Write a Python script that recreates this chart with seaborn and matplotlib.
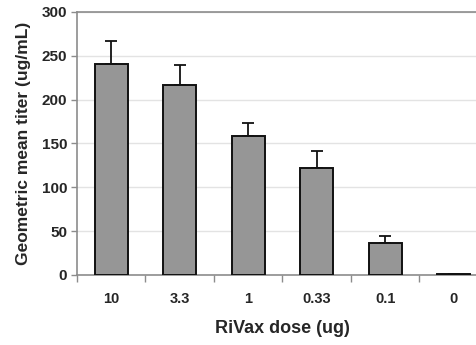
import matplotlib
matplotlib.use('Agg')
import matplotlib.pyplot as plt
import numpy as np
import pandas as pd
import seaborn as sns

# Data
doses = ['10', '3.3', '1', '0.33', '0.1', '0']
titers = [240, 216, 158, 122, 37, 1]
err_up = [27, 23, 15, 19, 7, 0]

df = pd.DataFrame({'dose': doses, 'titer': titers})

sns.set_style('white')
plt.rcParams['font.family'] = ['Liberation Sans', 'DejaVu Sans']
plt.rcParams['font.weight'] = 'bold'

fig = plt.figure(figsize=(4.77, 3.45), dpi=100)
ax = fig.add_axes([0.1614, 0.2029, 0.8616, 0.763])

sns.barplot(data=df, x='dose', y='titer', order=doses, color='#969696',
            saturation=1, width=0.48, edgecolor='#111111', linewidth=1.4,
            errorbar=None, ax=ax, zorder=3)
ax.errorbar(np.arange(len(doses)), titers,
            yerr=[np.zeros(len(err_up)), err_up],
            fmt='none', ecolor='#111111', elinewidth=1.3, capsize=4.5,
            capthick=1.3, zorder=2)

ax.set_xlim(-0.5, len(doses) - 0.5)
ax.set_ylim(0, 300)
ax.set_yticks(range(0, 301, 50))
ax.yaxis.grid(True, color='#e3e3e3', linewidth=1, zorder=0)
ax.set_axisbelow(True)

for side in ['left', 'bottom', 'top']:
    ax.spines[side].set_color('#8c8c8c')
    ax.spines[side].set_linewidth(1.2)
ax.spines['right'].set_visible(False)

ax.tick_params(axis='x', which='major', length=0, pad=12, labelsize=10.5)
ax.set_xticks(np.arange(-0.5, len(doses), 1), minor=True)
ax.tick_params(axis='x', which='minor', length=5, color='#8c8c8c', width=1)
ax.tick_params(axis='y', length=4, color='#8c8c8c', width=1, pad=3, labelsize=11)
ax.tick_params(left=True, bottom=False)
ax.tick_params(axis='x', which='minor', bottom=True)

ax.set_xlabel('RiVax dose (ug)', fontsize=13, fontweight='bold', labelpad=10)
ax.set_ylabel('Geometric mean titer (ug/mL)', fontsize=12.5, fontweight='bold', labelpad=8)

fig.savefig('out.png', dpi=100)
